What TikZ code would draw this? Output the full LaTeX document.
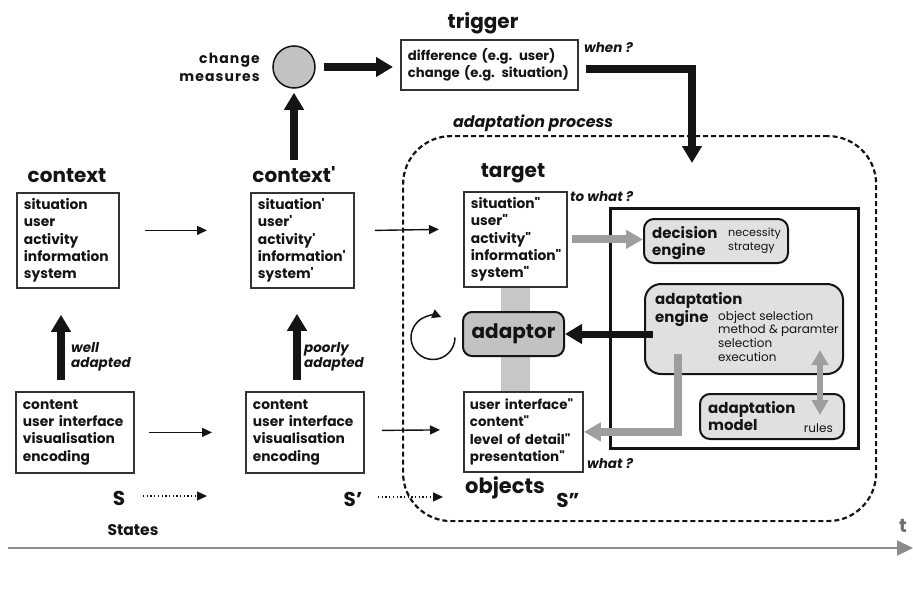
\documentclass[tikz,border=0pt]{standalone}
\usepackage{fontspec}
\setmainfont{Poppins}[Ligatures=TeXOff]
\usetikzlibrary{arrows.meta,backgrounds,calc}

\definecolor{ink}{gray}{0.08}
\definecolor{edge}{gray}{0.2}
\definecolor{arrowgray}{gray}{0.62}
\definecolor{barfill}{gray}{0.78}
\definecolor{panelfill}{gray}{0.88}
\definecolor{darkfill}{gray}{0.76}
\definecolor{axisgray}{gray}{0.55}

\tikzset{
  every node/.style={text=ink},
  box/.style={draw=edge, line width=1.8pt, fill=white, anchor=north west,
    align=left, inner xsep=7pt, inner ysep=3pt,
    font=\fontsize{13.8}{17.4}\selectfont\bfseries},
  title/.style={anchor=base, inner sep=0pt, font=\fontsize{20}{24}\selectfont\bfseries},
  note/.style={anchor=north west, align=left, inner sep=0pt,
    font=\fontsize{13.5}{15.5}\selectfont\bfseries\itshape},
  panel/.style={draw=ink, line width=2pt, fill=panelfill, rounded corners=10pt,
    anchor=north west, inner sep=0pt},
  pbold/.style={anchor=north west, align=left, inner sep=0pt,
    font=\fontsize{15}{17.5}\selectfont\bfseries},
  plight/.style={anchor=north west, align=left, inner sep=0pt,
    font=\fontsize{12}{13.6}\selectfont},
  thinarrow/.style={-{Triangle[length=10pt,width=9pt]}, line width=1.4pt, draw=ink},
  dotarrow/.style={-{Triangle[length=10pt,width=9pt]}, line width=1.3pt, draw=ink,
    dash pattern=on 1.3pt off 2.4pt},
  heavy/.style={-{Triangle[length=17pt,width=19pt]}, line width=7.5pt, draw=ink,
    line join=miter},
  grayarrow/.style={-{Triangle[length=17pt,width=18pt]}, line width=8pt,
    draw=arrowgray, line join=miter},
}

\begin{document}
\begin{tikzpicture}[x=1pt,y=-1pt]
\useasboundingbox (0,0) rectangle (913,594);

% ---------- state boxes ----------
\node[title] (ctxT) at (67,182) {context};
\node[box, text width=88pt, minimum height=95pt] (ctx) at (16,192)
  {situation\\user\\activity\\information\\system};

\node[title] (ctx2T) at (294,182) {context'};
\node[box, text width=89pt, minimum height=95pt] (ctx2) at (250,192)
  {situation'\\user'\\activity'\\information'\\system'};

\node[title] (tgtT) at (513,177) {target};
\node[box, text width=89pt, minimum height=95pt] (tgt) at (463,191)
  {situation"\\user"\\activity"\\information"\\system"};

\node[box, text width=104pt, minimum height=81pt] (bl) at (15,391)
  {content\\\mbox{user interface}\\visualisation\\encoding};
\node[box, text width=104pt, minimum height=81pt] (bm) at (245,391)
  {content\\\mbox{user interface}\\visualisation\\encoding};
\node[box, inner xsep=6pt, text width=107pt, minimum height=80pt,
  font=\fontsize{13.4}{17.2}\selectfont\bfseries] (obj) at (463,391)
  {\mbox{user interface"}\\content"\\\mbox{level of detail"}\\presentation"};
\node[title, font=\fontsize{21}{24}\selectfont\bfseries] (objT) at (505,493) {objects};

% ---------- trigger ----------
\node[title] (trigT) at (483,29) {trigger};
\node[box, text width=163pt, minimum height=50pt,
  font=\fontsize{13.2}{15.5}\selectfont\bfseries] (trig) at (400,39)
  {\mbox{difference (e.g. user)}\\\mbox{change (e.g. situation)}};
\node[circle, draw=ink, line width=1.5pt, fill=darkfill, minimum size=42pt,
  inner sep=0pt] (cm) at (294,67) {};
\node[anchor=north east, align=right, inner sep=0pt,
  font=\fontsize{14}{17.5}\selectfont\bfseries\addfontfeatures{LetterSpace=8}]
  (cmT) at (260,53) {change\\measures};

% ---------- adaptation process ----------
\node[draw=ink, line width=2.2pt, dash pattern=on 5pt off 3pt, rounded corners=48pt,
  minimum width=473pt, minimum height=385pt, anchor=north west] (proc) at (402,135) {};
\node[anchor=base west, inner sep=0pt, font=\fontsize{15.8}{18}\selectfont\bfseries\itshape]
  (procT) at (453,127) {adaptation process};

\node[draw=ink, line width=3pt, minimum width=248pt, minimum height=240pt,
  anchor=north west] (frame) at (609,207) {};

\node[panel, minimum width=144pt, minimum height=44pt] (dec) at (643,218) {};
\node[pbold] (decA) at (652,226) {decision\\engine};
\node[plight, font=\fontsize{11.2}{13.6}\selectfont] (decB) at (728,228) {necessity\\strategy};

\node[panel, rounded corners=16pt, minimum width=198pt, minimum height=90pt] (eng) at (644,283) {};
\node[pbold, font=\fontsize{15}{18}\selectfont\bfseries] (engA) at (655,292) {adaptation\\engine};
\node[plight] (engB) at (718,311) {object selection\\method \& paramter\\selection\\execution};

\node[panel, minimum width=144pt, minimum height=45pt] (mdl) at (699,393) {};
\node[pbold] (mdlA) at (708,401) {adaptation\\model};
\node[anchor=base east, inner sep=0pt, font=\fontsize{12}{14}\selectfont] (mdlB) at (833,432) {rules};

\node[draw=ink, line width=2pt, fill=darkfill, rounded corners=9pt,
  minimum width=101pt, minimum height=44pt, inner sep=0pt,
  font=\fontsize{20}{24}\selectfont\bfseries] (adp) at (513.5,334) {adaptor};

% connecting bar between target and objects
\begin{scope}[on background layer]
  \draw[barfill, line width=29pt] (tgt.south) -- (tgt.south |- obj.north);
\end{scope}

% ---------- notes ----------
\node[note] (wellT) at (71,342) {well\\adapted};
\node[note] (poorT) at (304,342) {poorly\\adapted};
\node[note] (toT) at (570,191) {to what ?};
\node[note] (whatT) at (587,458) {what ?};
\node[note] (whenT) at (584,42) {when ?};

% ---------- states ----------
\node[title] (s0) at (119,505) {S};
\node[title] (s1) at (353,506) {S’};
\node[title] (s2) at (568,507) {S”};
\node[anchor=base, inner sep=0pt, font=\fontsize{15.5}{18}\selectfont\bfseries] (states) at (133,535) {States};

% ---------- connectors ----------
\draw[thinarrow] ($(ctx.east)+(25,-10)$) -- ($(ctx2.west)+(-43,-10)$);
\draw[thinarrow] ($(ctx2.east)+(20,-10)$) -- ($(tgt.west)+(-24,-10)$);
\draw[thinarrow] ($(bl.east)+(14,0)$) -- ($(bm.west)+(-33,0)$);
\draw[thinarrow] ($(bm.east)+(17,-2)$) -- ($(obj.west)+(-23,-2)$);

\draw[dotarrow] ($(s0.base)+(24,-9)$) -- ($(s0.base)+(88,-9)$);
\draw[dotarrow] ($(s1.base)+(25,-9)$) -- ($(s1.base)+(90,-9)$);

\draw[heavy] ($(bl.north west)+(46,-11)$) -- ($(ctx.south west)+(45,26)$);
\draw[heavy] ($(bm.north west)+(52,-11)$) -- ($(ctx2.south west)+(47,25)$);
\draw[heavy, shorten <=6pt, shorten >=4pt] (cm |- ctx2T.north) -- (cm.south);
\draw[heavy, shorten <=8pt, shorten >=7pt] (cm.east) -- (cm.east -| trig.west);
\coordinate (whenStart) at (586,69);
\coordinate (procIn) at (692,163);
\draw[heavy] (whenStart) -| (procIn);

\draw[grayarrow, shorten <=4pt] (tgt.east) -- (tgt.east -| dec.west);
\draw[heavy, line width=7pt, shorten <=-9pt] (eng.west |- adp.east) -- (adp.east);
\draw[grayarrow] ($(eng.south west)+(34,-21)$) |- (obj.east);
\draw[arrowgray, line width=6pt, {Triangle[length=15pt,width=16pt]}-{Triangle[length=15pt,width=16pt]}]
  ($(eng.south east)+(-24,-25)$) -- ($(mdl.north east)+(-25,22)$);

% self-loop of the adaptor
\coordinate (loopC) at (433,337.5);
\draw[line width=1.5pt, draw=ink, -{Triangle[length=9pt,width=9pt]}]
  ($(loopC)+(0:22)$) arc[start angle=0, end angle=292, radius=22];

% ---------- time axis ----------
\coordinate (tStart) at (8,548);
\coordinate (tEnd) at (913,548);
\draw[axisgray, line width=2.2pt, -{Triangle[length=16pt,width=15pt]}] (tStart) -- (tEnd);
\node[anchor=base, inner sep=0pt, text=axisgray!80!black,
  font=\fontsize{19}{22}\selectfont\bfseries] (tT) at (903,532) {t};
\end{tikzpicture}
\end{document}
